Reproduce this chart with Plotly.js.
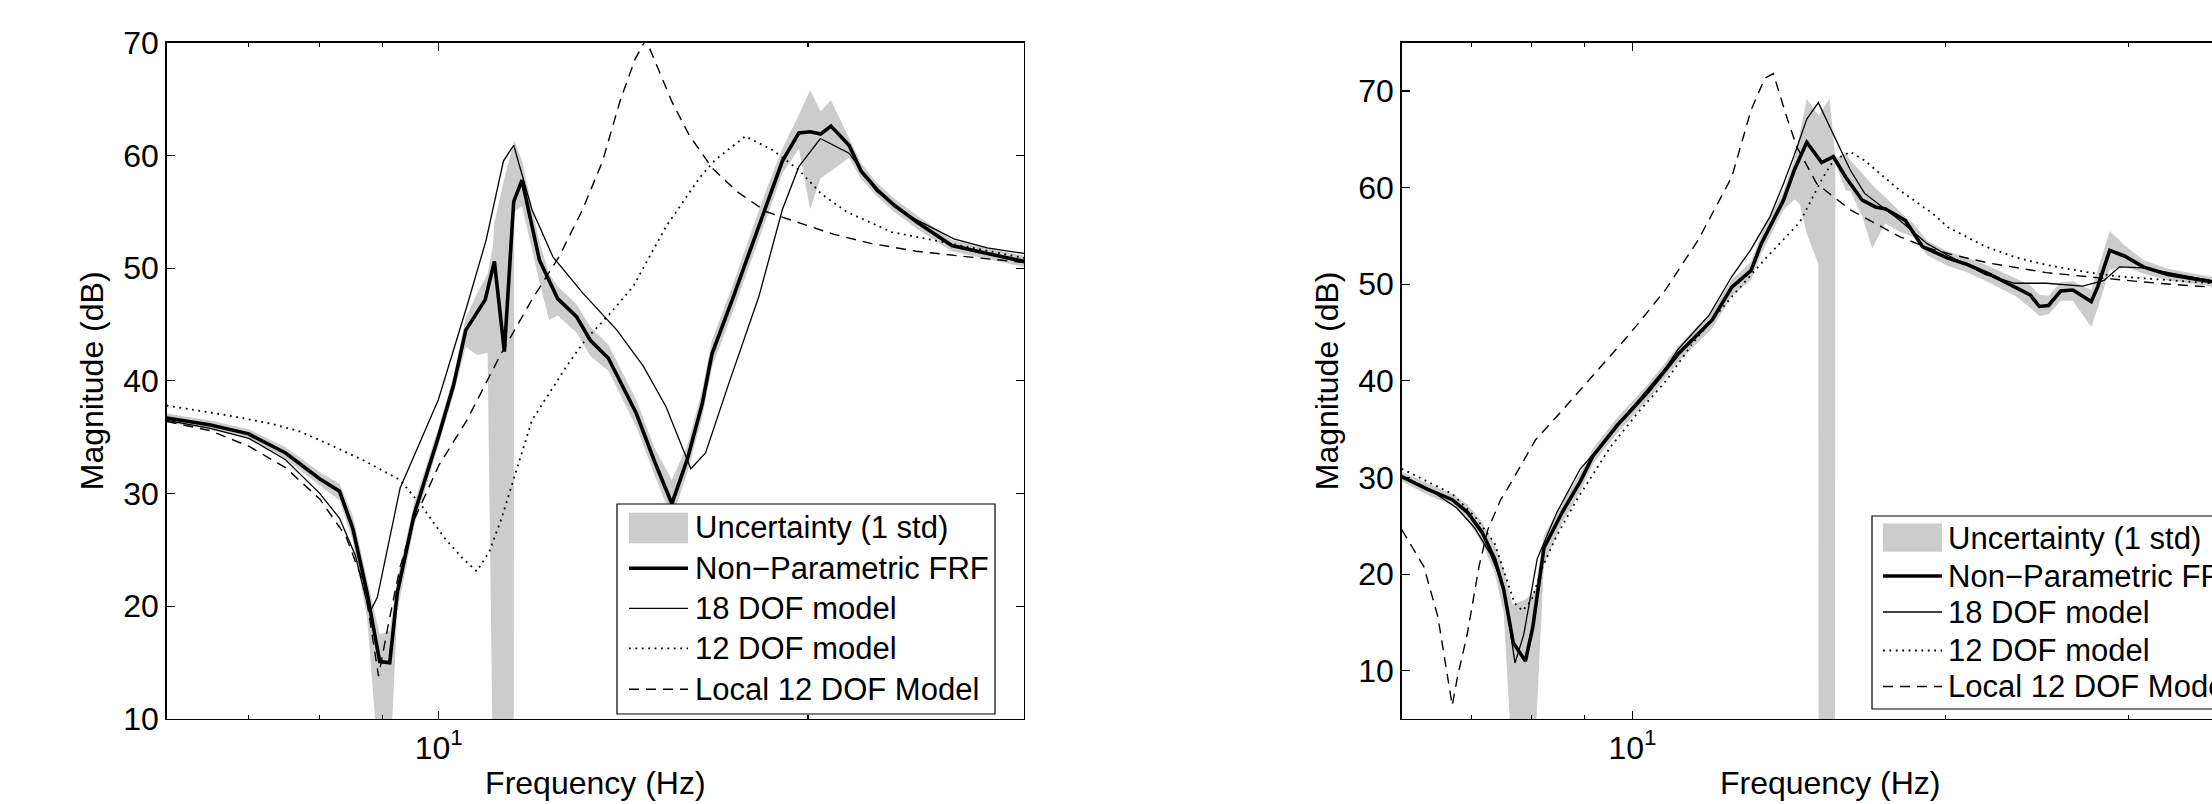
<!DOCTYPE html>
<html><head><meta charset="utf-8">
<script src="https://cdn.plot.ly/plotly-3.0.1.min.js"></script>
<style>html,body{margin:0;padding:0;overflow:hidden;background:#fff}#chart{width:2300px;height:804px}</style>
</head><body><div id="chart"></div>
<script>
// ---------- LEFT PANEL DATA ----------
const frfFreqL = [6.0,6.5,7.0,7.05,7.5,8.0,8.3,8.51,8.74,8.95,9.12,9.25,9.55,9.99,10.28,10.52,10.91,11.10,11.31,11.51,11.69,12.08,12.5,12.95,13.29,13.75,14.49,15.0,15.49,15.95,16.4,16.7,17.35,17.9,18.47,19.06,19.66,20.08,20.48,20.88,21.6,22.1,22.75,23.5,24.6,26.2,28.0,30.0];
const frfL = [36.7,36.1,35.3,35.1,33.6,31.3,30.2,26.9,21.2,15.1,15.0,21.2,28.2,35.0,39.6,44.5,47.2,50.6,42.6,55.9,57.8,50.7,47.3,45.7,43.6,42.0,37.1,32.8,29.1,33.1,38.0,42.4,47.2,51.3,55.5,59.5,62.0,62.1,61.9,62.6,60.9,58.6,57.0,55.6,54.0,52.0,51.3,50.6];

const bandFreqL = [6.0,6.5,7.0,7.5,8.0,8.3,8.51,8.74,8.95,9.12,9.25,9.55,9.99,10.28,10.52,10.75,10.96,11.07,11.10,11.31,11.51,11.52,11.69,12.08,12.3,12.5,12.95,13.29,13.75,14.49,15.0,15.49,15.95,16.4,16.7,17.35,17.9,18.47,19.06,19.66,20.08,20.48,20.88,21.6,22.1,22.75,23.5,24.6,26.2,28.0,30.0];
const bandUpperL = [37.1,36.5,35.7,34.1,31.9,30.9,28.0,22.5,17.5,17.8,22.5,29.2,35.8,40.4,45.6,47.8,49.5,52.0,54.0,58.0,61.3,61.3,59.6,52.3,49.5,48.4,46.8,44.8,43.2,38.3,34.0,31.2,34.3,39.2,43.6,48.4,52.6,56.8,60.6,63.6,65.8,63.9,64.9,61.6,59.3,57.6,56.2,54.6,52.5,51.8,51.1];
const bandLowerL = [36.3,35.7,34.9,33.1,30.7,29.4,25.8,19.0,5,5,19.5,27.2,34.2,38.8,43.0,42.3,42.5,5,5,5,5,55.0,55.5,48.8,45.4,45.8,44.3,42.2,40.9,35.9,31.6,27.8,31.9,36.8,41.2,46.0,50.0,54.2,58.4,60.6,55.2,58.0,58.6,59.8,57.9,56.4,55.0,53.4,51.5,50.8,50.1];

const dof18FreqL = [6.0,6.5,7.0,7.5,8.0,8.3,8.55,8.78,8.91,9.30,9.99,10.54,10.93,11.29,11.51,11.91,12.39,13.1,13.97,14.68,15.32,16.05,16.5,17.24,18.24,19.06,19.66,20.47,21.6,22.75,24.3,26.3,28.0,30.0];
const dof18L = [36.5,35.8,34.9,33.0,30.0,27.8,24.5,19.4,20.8,30.5,38.3,46.6,52.5,59.5,60.9,55.2,51.0,47.8,44.5,41.3,37.7,32.2,33.6,39.8,47.5,55.2,59.0,61.5,60.2,56.8,54.5,52.6,51.8,51.3];

const dof12FreqL = [6.0,6.76,7.3,7.71,8.2,8.7,9.3,9.7,10.1,10.45,10.74,11.0,11.25,11.51,11.91,12.71,13.16,13.8,14.41,15.32,16.34,16.8,17.78,18.7,19.66,20.5,21.5,23.4,26.0,30.0];
const dof12L = [37.8,36.9,36.2,35.5,34.2,32.9,31.2,28.8,26.1,24.3,23.1,24.9,27.8,31.2,36.5,41.3,43.6,46.0,48.4,53.7,58.1,59.6,61.7,60.5,58.7,56.6,55.0,53.2,52.2,50.9];

const localFreqL = [6.0,6.5,7.0,7.5,8.0,8.4,8.7,8.93,9.1,9.3,9.55,10.0,10.54,11.24,11.91,12.53,13.1,13.6,14.06,14.45,14.75,15.05,15.5,16.0,16.7,17.5,18.5,19.7,21.0,22.5,24.5,27.0,30.0];
const localL = [36.4,35.6,34.2,32.3,29.5,26.2,21.8,13.8,18.5,23.5,27.7,32.5,36.5,42.4,47.2,51.0,55.2,59.5,64.9,68.5,70.3,68.0,64.7,61.8,58.9,56.8,55.0,54.0,53.0,52.2,51.5,51.0,50.5];

// ---------- RIGHT PANEL DATA ----------
const frfFreqR = [6.0,6.35,6.71,6.94,7.17,7.37,7.52,7.68,7.89,8.02,8.22,8.56,8.91,9.16,9.67,10.34,11.07,11.93,12.46,13.0,13.3,13.97,14.32,14.71,15.2,15.6,16.03,16.63,17.13,17.51,18.3,19.0,20.1,20.92,22.09,23.32,24.12,24.61,25.12,25.8,26.51,27.61,28.0,28.76,29.75,30.98,32.7,35.9,40.0];
const frfR = [30.1,28.8,27.7,26.4,24.3,21.6,18.4,12.9,11.0,14.5,22.7,26.4,29.6,32.2,35.4,38.8,42.8,46.3,49.7,51.4,54.2,58.7,61.9,64.7,62.6,63.2,61.1,58.7,58.0,57.8,56.6,53.9,52.7,52.1,51.0,49.7,48.9,47.7,47.8,49.3,49.4,48.2,49.7,53.5,52.9,51.8,51.0,50.3,49.8];

const bandFreqR = [6.0,6.35,6.71,6.94,7.17,7.37,7.52,7.64,7.68,7.89,8.02,8.07,8.22,8.56,8.91,9.16,9.67,10.34,11.07,11.93,12.46,13.0,13.3,13.97,14.32,14.48,14.71,15.09,15.10,15.47,15.66,15.67,16.03,16.2,16.63,17.0,17.5,18.08,18.65,19.2,20.1,20.92,22.09,23.32,24.12,24.61,25.12,25.8,26.51,27.61,28.0,28.76,29.75,30.98,32.7,35.9,40.0];
const bandUpperR = [30.6,29.4,28.3,27.2,25.4,23.0,20.5,17.5,16.8,17.4,18.0,18.5,24.0,27.4,30.5,33.0,36.2,39.6,43.6,47.2,50.5,52.3,55.2,59.7,63.0,65.5,69.2,67.5,67.5,69.2,63.0,63.0,63.6,62.8,61.5,60.3,59.0,57.5,56.2,54.5,53.4,52.8,51.8,50.6,49.9,48.9,48.8,50.2,50.3,49.4,51.4,55.5,54.0,52.5,51.6,50.8,50.2];
const bandLowerR = [29.6,28.2,27.1,25.6,23.2,20.2,16.0,3,3,3,3,3,21.0,25.3,28.6,31.4,34.6,38.0,42.0,45.4,48.8,50.4,53.2,57.7,58.8,58.3,55.2,52.1,3,3,3,62.5,59.7,59.7,57.0,53.7,56.3,55.4,54.9,53.0,51.9,51.3,50.1,48.8,47.6,46.7,46.9,48.3,48.3,45.6,47.5,51.5,51.8,51.1,50.4,49.8,49.4];

const dof18FreqR = [6.0,6.43,6.77,7.05,7.3,7.52,7.71,7.86,8.1,8.46,8.91,9.31,9.67,10.34,10.77,11.07,11.85,12.46,13.0,13.56,13.97,14.3,14.71,15.09,15.47,16.2,16.72,18.08,19.2,20.1,21.85,23.32,25.0,27.1,28.4,29.4,30.98,35.9,40.0];
const dof18R = [30.1,28.5,26.9,24.8,22.1,18.7,10.8,13.7,21.6,26.4,30.9,33.2,35.4,39.1,41.4,43.3,46.8,50.8,53.6,57.0,60.4,63.3,67.1,68.8,66.3,61.8,59.4,56.6,54.2,53.0,51.0,50.1,50.1,49.8,50.4,51.8,51.7,50.4,49.9];

const dof12FreqR = [6.0,6.71,7.05,7.37,7.7,7.84,8.0,8.2,8.45,8.84,9.53,10.1,10.77,11.5,12.46,13.46,14.48,15.2,15.6,16.2,16.72,18.08,19.45,20.1,21.85,23.32,25.0,27.5,29.4,31.0,36.0,40.0];
const dof12R = [30.9,28.3,26.0,23.2,17.0,16.2,17.3,20.8,23.9,27.7,33.2,36.6,40.0,44.3,48.7,52.8,56.4,60.8,62.8,63.7,62.8,59.7,57.3,55.9,53.9,52.8,52.0,51.2,50.8,50.6,50.1,49.8];

const localFreqR = [6.0,6.3,6.5,6.66,6.71,6.79,6.94,7.12,7.26,7.47,7.58,8.07,8.44,9.31,9.93,10.37,10.77,11.57,12.46,13.0,13.4,13.66,14.07,14.39,15.04,16.2,18.08,19.3,20.4,22.0,25.0,28.5,32.0,36.0,40.0];
const localR = [24.6,20.8,15.6,8.3,6.4,9.4,13.9,20.8,24.6,27.7,28.8,33.9,36.2,41.4,44.8,47.3,49.5,54.6,61.1,68.0,71.3,71.8,67.3,64.2,60.4,57.7,54.9,53.7,53.0,52.2,51.2,50.6,50.1,49.7,49.5];

// ---------- LABELS ----------
const seriesNames = ['Uncertainty (1 std)','Non\u2212Parametric FRF','18 DOF model','12 DOF model','Local 12 DOF Model'];
const xTickVals = [10];
const xTickText = ['10<sup>1</sup>'];
const minorTicksL = [7,8,9,20];
const minorTicksR = [7,8,9,20,30];
const yTicksL = [10,20,30,40,50,60,70];
const yTicksR = [10,20,30,40,50,60,70];
const xTitle = 'Frequency (Hz)';
const yTitle = 'Magnitude (dB)';

// ---------- LAYOUT HELPERS ----------
const W = 2300, H = 804;
const FONT = 'Liberation Sans, Arial, Helvetica, sans-serif';
const px = v => v / W;
const py = v => 1 - v / H;

const STY = {
  band: {fillcolor:'#cccccc'},
  frf: {color:'#000', width:3.6},
  dof18: {color:'#000', width:1.3},
  dof12: {color:'#000', width:1.8, dash:'1.8px,4.6px'},
  local: {color:'#000', width:1.4, dash:'10px,7px'}
};

function band(f, up, lo, xa, ya) {
  return {x: f.concat(f.slice().reverse()), y: up.concat(lo.slice().reverse()),
    type:'scatter', mode:'lines', fill:'toself', fillcolor:STY.band.fillcolor,
    line:{width:0, color:'rgba(0,0,0,0)'}, name:seriesNames[0], showlegend:false,
    hoverinfo:'skip', xaxis:xa, yaxis:ya};
}
function line(f, v, sty, name, xa, ya) {
  return {x:f, y:v, type:'scatter', mode:'lines', line:sty, name:name,
    showlegend:false, xaxis:xa, yaxis:ya};
}

const traces = [
  band(bandFreqL, bandUpperL, bandLowerL, 'x', 'y'),
  line(localFreqL, localL, STY.local, seriesNames[4], 'x', 'y'),
  line(dof12FreqL, dof12L, STY.dof12, seriesNames[3], 'x', 'y'),
  line(dof18FreqL, dof18L, STY.dof18, seriesNames[2], 'x', 'y'),
  line(frfFreqL, frfL, STY.frf, seriesNames[1], 'x', 'y'),
  band(bandFreqR, bandUpperR, bandLowerR, 'x2', 'y2'),
  line(localFreqR, localR, STY.local, seriesNames[4], 'x2', 'y2'),
  line(dof12FreqR, dof12R, STY.dof12, seriesNames[3], 'x2', 'y2'),
  line(dof18FreqR, dof18R, STY.dof18, seriesNames[2], 'x2', 'y2'),
  line(frfFreqR, frfR, STY.frf, seriesNames[1], 'x2', 'y2')
];

const tickFont = {family:FONT, size:32, color:'#000'};
function xAxis(dom, fmax, minorVals, anchor) {
  return {type:'log', domain:dom, range:[Math.log10(6), Math.log10(fmax)], anchor:anchor,
    showline:true, linecolor:'#000', linewidth:1.4, mirror:'ticks',
    ticks:'inside', ticklen:8, tickwidth:1.1, tickcolor:'#000',
    tickmode:'array', tickvals:xTickVals, ticktext:xTickText, tickfont:tickFont,
    minor:{tickmode:'array', tickvals:minorVals, ticks:'inside', ticklen:4, tickwidth:1.1, tickcolor:'#000', showgrid:false},
    showgrid:false, zeroline:false, fixedrange:true,
    title:{text:xTitle, font:tickFont, standoff:7}};
}
function yAxis(range, vals, anchor) {
  return {domain:[py(719), py(42.7)], range:range, anchor:anchor,
    showline:true, linecolor:'#000', linewidth:1.4, mirror:'ticks',
    ticks:'inside', ticklen:8, tickwidth:1.1, tickcolor:'#000',
    tickmode:'array', tickvals:vals, tickfont:tickFont,
    showgrid:false, zeroline:false, fixedrange:true,
    title:{text:yTitle, font:tickFont, standoff:10}};
}

// manual legends (boxes, symbols, texts)
function legend(box, symX, textX, rows, grayY) {
  const shapes = [], ann = [];
  shapes.push({type:'rect', xref:'paper', yref:'paper', layer:'above',
    x0:px(box[0]), x1:px(box[2]), y0:py(box[3]), y1:py(box[1]),
    fillcolor:'#fff', line:{color:'#000', width:1.2}});
  shapes.push({type:'rect', xref:'paper', yref:'paper', layer:'above',
    x0:px(symX[0]), x1:px(symX[1]), y0:py(grayY[1]), y1:py(grayY[0]),
    fillcolor:STY.band.fillcolor, line:{width:0}});
  [STY.frf, STY.dof18, STY.dof12, STY.local].forEach((s, i) => {
    shapes.push({type:'line', xref:'paper', yref:'paper', layer:'above',
      x0:px(symX[0]), x1:px(symX[1]), y0:py(rows[i+1]), y1:py(rows[i+1]),
      line:{color:s.color, width:s.width, dash:s.dash || 'solid'}});
  });
  seriesNames.forEach((n, i) => {
    ann.push({xref:'paper', yref:'paper', x:px(textX), y:py(rows[i]), xanchor:'left', yanchor:'middle',
      text:n, showarrow:false, font:{family:FONT, size:31, color:'#000'}});
  });
  return {shapes, ann};
}
const legL = legend([617,504,995,714], [629,688], 693, [527.7,568.3,608.3,648.3,689.3], [512.7,543.3]);
const legR = legend([1872,516,2250,709], [1883,1942], 1946, [538,576,612,650.5,686.5], [523.6,551.8]);

const layout = {
  width:W, height:H, margin:{l:0, r:0, t:0, b:0}, paper_bgcolor:'#fff', plot_bgcolor:'#fff',
  showlegend:false, font:{family:FONT, color:'#000'},
  xaxis: xAxis([px(166.7), px(1024)], 30, minorTicksL, 'y'),
  yaxis: yAxis([10,70], yTicksL, 'x'),
  xaxis2: xAxis([px(1401.7), px(2258.7)], 40, minorTicksR, 'y2'),
  yaxis2: yAxis([5,75], yTicksR, 'x2'),
  shapes: legL.shapes.concat(legR.shapes),
  annotations: legL.ann.concat(legR.ann)
};
Plotly.newPlot('chart', traces, layout, {staticPlot:true, displayModeBar:false});
</script></body></html>
